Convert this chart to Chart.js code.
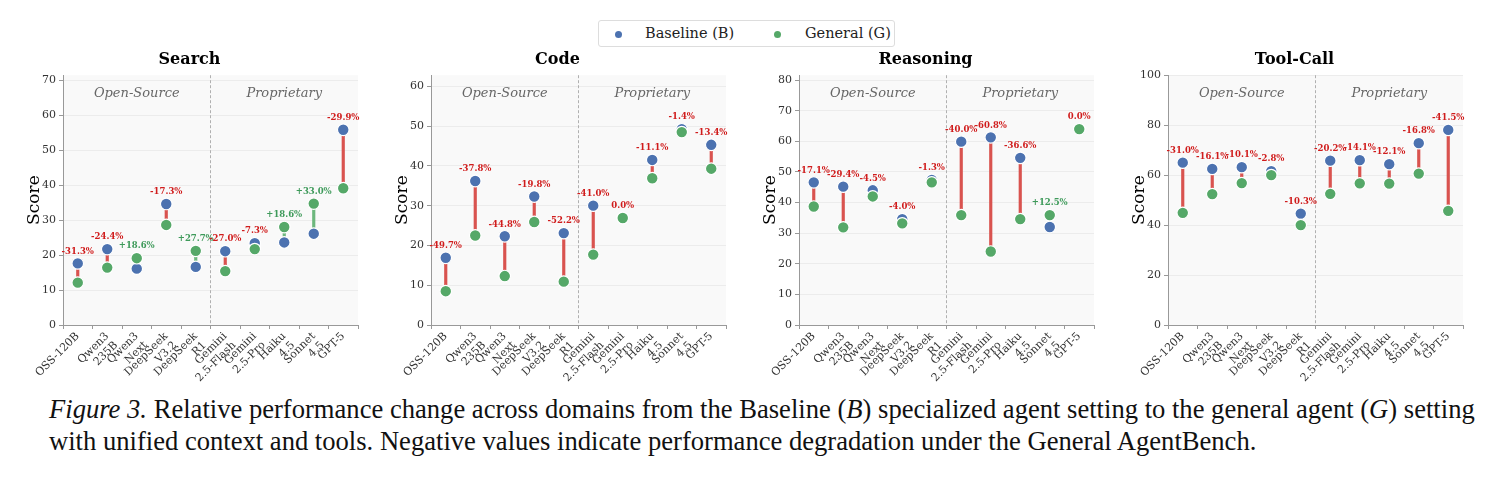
<!DOCTYPE html>
<html>
<head>
<meta charset="utf-8">
<script src="https://cdn.jsdelivr.net/npm/chart.js@4"></script>
<style>
  body { margin: 0; background: #fff; width: 1491px; height: 477px; position: relative; overflow: hidden; }
  canvas { position: absolute; }
  #legend { position: absolute; left: 598px; top: 20px; width: 297px; height: 27px; border: 1px solid #ddd; border-radius: 3px;
            font: 14.5px "DejaVu Serif", serif; color: #222; box-sizing: border-box; white-space: nowrap; }
  #legend span { position: absolute; top: 4px; }
  #legend i { position: absolute; top: 10px; width: 7px; height: 7px; border-radius: 50%; }
  #caption { position: absolute; left: 49px; top: 393px; width: 1440px; font: 26.6px "Liberation Serif", "Times New Roman", serif;
             line-height: 32px; color: #111; white-space: nowrap; }
</style>
</head>
<body>
<div id="legend">
  <i style="left:16px;background:#4c72b0"></i><span style="left:46px">Baseline (B)</span>
  <i style="left:175px;background:#55a868"></i><span style="left:206px">General (G)</span>
</div>
<canvas id="c0" width="345" height="340" style="left:21px;top:45px"></canvas>
<canvas id="c1" width="345" height="340" style="left:389px;top:45px"></canvas>
<canvas id="c2" width="345" height="340" style="left:757px;top:45px"></canvas>
<canvas id="c3" width="345" height="340" style="left:1126px;top:45px"></canvas>
<div id="caption"><i>Figure 3.</i> Relative performance change across domains from the Baseline (<i>B</i>) specialized agent setting to the general agent (<i>G</i>) setting<br>with unified context and tools. Negative values indicate performance degradation under the General AgentBench.</div>
<script>
const models = [['OSS-120B'], ['Qwen3', '235B'], ['Qwen3', 'Next'], ['DeepSeek', 'V3.2'], ['DeepSeek', 'R1'],
  ['Gemini', '2.5-Flash'], ['Gemini', '2.5-Pro'], ['Haiku', '4.5'], ['Sonnet', '4.5'], ['GPT-5']];

const searchBaseline = [17.6, 21.7, 16.1, 34.6, 16.6, 21.1, 23.4, 23.6, 26.1, 55.8];
const searchGeneral  = [12.1, 16.4, 19.1, 28.6, 21.2, 15.4, 21.7, 28.0, 34.7, 39.1];
const searchChange   = ['-31.3%', '-24.4%', '+18.6%', '-17.3%', '+27.7%', '-27.0%', '-7.3%', '+18.6%', '+33.0%', '-29.9%'];

const codeBaseline = [16.9, 36.2, 22.3, 32.3, 23.1, 30.0, 26.9, 41.5, 49.2, 45.3];
const codeGeneral  = [8.5, 22.5, 12.3, 25.9, 10.9, 17.7, 26.9, 36.9, 48.5, 39.3];
const codeChange   = ['-49.7%', '-37.8%', '-44.8%', '-19.8%', '-52.2%', '-41.0%', '0.0%', '-11.1%', '-1.4%', '-13.4%'];

const reasoningBaseline = [46.6, 45.2, 44.0, 34.6, 47.4, 59.9, 61.3, 54.6, 32.0, 64.0];
const reasoningGeneral  = [38.7, 31.9, 42.0, 33.2, 46.6, 35.9, 24.0, 34.6, 35.9, 64.0];
const reasoningChange   = ['-17.1%', '-29.4%', '-4.5%', '-4.0%', '-1.3%', '-40.0%', '-60.8%', '-36.6%', '+12.5%', '0.0%'];

const toolBaseline = [65.0, 62.5, 63.2, 61.6, 44.6, 65.8, 66.0, 64.4, 72.8, 78.1];
const toolGeneral  = [44.9, 52.4, 56.8, 60.0, 40.0, 52.5, 56.7, 56.6, 60.6, 45.7];
const toolChange   = ['-31.0%', '-16.1%', '-10.1%', '-2.8%', '-10.3%', '-20.2%', '-14.1%', '-12.1%', '-16.8%', '-41.5%'];

const BLUE = '#4c72b0', GREEN = '#55a868', RED_LINE = '#d9534f', GREEN_LINE = '#6db77d';
const RED_TXT = '#d01c1c', GREEN_TXT = '#3e9a5a';
const SERIF = '"DejaVu Serif", serif';

const decor = {
  id: 'decor',
  beforeDraw(chart) {
    const { ctx, chartArea: a } = chart;
    ctx.save();
    ctx.fillStyle = '#f9f9f9';
    ctx.fillRect(a.left, a.top, a.right - a.left, a.bottom - a.top);
    ctx.restore();
  },
  afterDatasetsDraw(chart) {
    const { ctx, chartArea: a, scales: { x, y } } = chart;
    const opts = chart.options.plugins.decor;
    const mid = (x.getPixelForValue(4) + x.getPixelForValue(5)) / 2;
    ctx.save();
    ctx.strokeStyle = '#b0b0b0';
    ctx.lineWidth = 1;
    ctx.setLineDash([3, 2]);
    ctx.beginPath();
    ctx.moveTo(mid, a.top);
    ctx.lineTo(mid, a.bottom);
    ctx.stroke();
    ctx.setLineDash([]);
    ctx.font = 'italic 13px ' + SERIF;
    ctx.fillStyle = '#666';
    ctx.textAlign = 'center';
    ctx.textBaseline = 'middle';
    ctx.fillText('Open-Source', (a.left + mid) / 2, a.top + 18);
    ctx.fillText('Proprietary', (mid + a.right) / 2, a.top + 18);
    ctx.font = 'bold 8.5px ' + SERIF;
    opts.change.forEach((t, i) => {
      const top = Math.max(opts.base[i], opts.gen[i]);
      ctx.fillStyle = t.startsWith('+') ? GREEN_TXT : RED_TXT;
      ctx.fillText(t, x.getPixelForValue(i), y.getPixelForValue(top) - 12);
    });
    ctx.restore();
  }
};

function buildChart(id, title, base, gen, change, yMax, yStep) {
  const pairs = base.map((b, i) => [gen[i], b]);
  new Chart(document.getElementById(id), {
    type: 'bar',
    data: {
      labels: models,
      datasets: [
        { type: 'bar', data: pairs, barThickness: 2.5, order: 2,
          backgroundColor: base.map((b, i) => gen[i] > b ? GREEN_LINE : RED_LINE) },
        { type: 'line', label: 'Baseline (B)', data: base, showLine: false, order: 1,
          pointRadius: 5.8, pointBackgroundColor: BLUE, pointBorderColor: '#fff', pointBorderWidth: 1.2 },
        { type: 'line', label: 'General (G)', data: gen, showLine: false, order: 0,
          pointRadius: 5.8, pointBackgroundColor: GREEN, pointBorderColor: '#fff', pointBorderWidth: 1.2 }
      ]
    },
    options: {
      responsive: false,
      animation: false,
      layout: { padding: { right: 8 } },
      plugins: {
        legend: { display: false },
        tooltip: { enabled: false },
        title: { display: true, text: title, color: '#000', font: { family: SERIF, size: 16, weight: 'bold' },
                 padding: { top: 5, bottom: 6 } },
        decor: { base, gen, change }
      },
      scales: {
        x: {
          offset: true,
          grid: { display: true, drawOnChartArea: false, drawTicks: true, tickLength: 4, color: '#999' },
          border: { color: '#999' },
          ticks: { color: '#333', font: { family: SERIF, size: 11, lineHeight: 1.15 }, minRotation: 45, maxRotation: 45, autoSkip: false, padding: 1 },
          afterFit(s) { s.height = 60; }
        },
        y: {
          min: 0, max: yMax,
          grid: { color: '#ececec', tickLength: 4, tickColor: '#999' },
          border: { color: '#999' },
          ticks: { stepSize: yStep, includeBounds: false, color: '#333', font: { family: SERIF, size: 11 }, padding: 3 },
          title: { display: true, text: 'Score', color: '#000', font: { family: SERIF, size: 17 }, padding: { top: 3, bottom: 0 } },
          afterFit(s) { s.width = 42; }
        }
      }
    },
    plugins: [decor]
  });
}

buildChart('c0', 'Search', searchBaseline, searchGeneral, searchChange, 71.4, 10);
buildChart('c1', 'Code', codeBaseline, codeGeneral, codeChange, 62.8, 10);
buildChart('c2', 'Reasoning', reasoningBaseline, reasoningGeneral, reasoningChange, 81.6, 10);
buildChart('c3', 'Tool-Call', toolBaseline, toolGeneral, toolChange, 100, 20);
</script>
</body>
</html>
